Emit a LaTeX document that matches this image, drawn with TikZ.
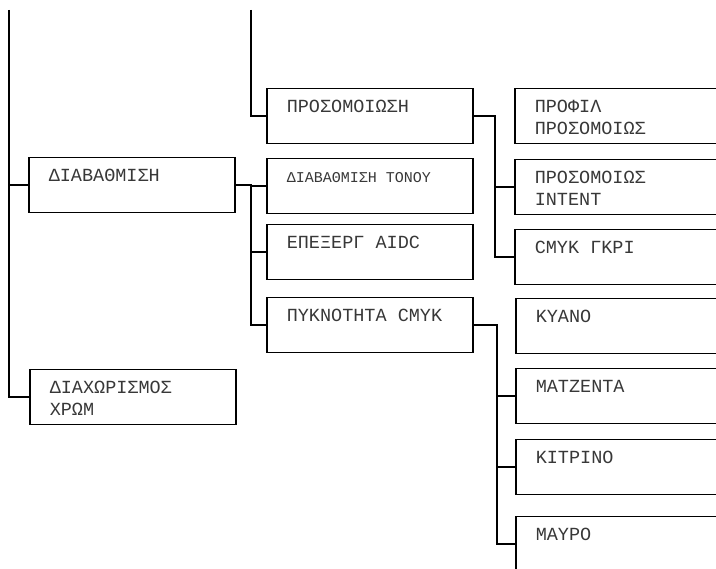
\documentclass[tikz,border=0pt]{standalone}
\usepackage{fontspec}
\newfontfamily\lmono{Liberation Mono}
\begin{document}
\begin{tikzpicture}[x=1pt,y=-1pt, line width=1.5pt,
  box/.style={draw, rectangle, minimum width=206pt, minimum height=55pt, anchor=north west, inner sep=0pt},
  lbl/.style={anchor=base west, inner sep=0pt, font=\lmono\fontsize{18.5}{21.7}\selectfont, text=black!78}]
\useasboundingbox (0,0) rectangle (716,569);
\clip (0,0) rectangle (716,569);
% boxes
\node[box] (diab) at (28,157) {};
\node[box] (diax) at (29,369) {};
\node[box] (pros) at (266,88) {};
\node[box] (tonu) at (266,158) {};
\node[box] (aidc) at (266,224) {};
\node[box] (pykn) at (266,297) {};
\node[box] (prof) at (514,88) {};
\node[box] (inte) at (514,159) {};
\node[box] (gkri) at (514,229) {};
\node[box] (kyan) at (515,298) {};
\node[box] (matz) at (515,368) {};
\node[box] (kitr) at (515,439) {};
\node[box] (mayr) at (515,516) {};
% labels
\node[lbl] (diabt) at ([shift={(20,24.5)}]diab.north west) {ΔΙΑΒΑΘΜΙΣΗ};
\node[lbl] (diaxt) at ([shift={(20,24.5)}]diax.north west) {\begin{tabular}[t]{@{}l@{}}ΔΙΑΧΩΡΙΣΜΟΣ\\ΧΡΩΜ\end{tabular}};
\node[lbl] (prost) at ([shift={(20,24.5)}]pros.north west) {ΠΡΟΣΟΜΟΙΩΣΗ};
\node[lbl, font=\lmono\fontsize{15}{18}\selectfont] (tonut) at ([shift={(20,24.5)}]tonu.north west) {ΔΙΑΒΑΘΜΙΣΗ ΤΟΝΟΥ};
\node[lbl] (aidct) at ([shift={(20,24.5)}]aidc.north west) {ΕΠΕΞΕΡΓ AIDC};
\node[lbl] (pyknt) at ([shift={(20,24.5)}]pykn.north west) {ΠΥΚΝΟΤΗΤΑ CMYK};
\node[lbl] (proft) at ([shift={(20,24.5)}]prof.north west) {\begin{tabular}[t]{@{}l@{}}ΠΡΟΦΙΛ\\ΠΡΟΣΟΜΟΙΩΣ\end{tabular}};
\node[lbl] (intet) at ([shift={(20,24.5)}]inte.north west) {\begin{tabular}[t]{@{}l@{}}ΠΡΟΣΟΜΟΙΩΣ\\INTENT\end{tabular}};
\node[lbl] (gkrit) at ([shift={(20,24.5)}]gkri.north west) {CMYK ΓΚΡΙ};
\node[lbl] (kyant) at ([shift={(20,24.5)}]kyan.north west) {ΚΥΑΝΟ};
\node[lbl] (matzt) at ([shift={(20,24.5)}]matz.north west) {ΜΑΤΖΕΝΤΑ};
\node[lbl] (kitrt) at ([shift={(20,24.5)}]kitr.north west) {ΚΙΤΡΙΝΟ};
\node[lbl] (mayrt) at ([shift={(20,24.5)}]mayr.north west) {ΜΑΥΡΟ};
% connectors
\coordinate (t1) at (9,10);
\coordinate (t2) at (251,10);
\coordinate (b2) at (495,0);
\coordinate (b3) at (497,0);
\draw (t1) |- (diax.west);
\draw (diab.west) -- (diab.west -| t1);
\draw (t2) |- (pros.west);
\draw (diab.east) -- (diab.east -| t2) |- (pykn.west);
\draw (tonu.west -| t2) -- (tonu.west);
\draw (aidc.west -| t2) -- (aidc.west);
\draw (pros.east) -- (pros.east -| b2) |- (gkri.west);
\draw (inte.west -| b2) -- (inte.west);
\draw (pykn.east) -- (pykn.east -| b3) |- (mayr.west);
\draw (matz.west -| b3) -- (matz.west);
\draw (kitr.west -| b3) -- (kitr.west);
\end{tikzpicture}
\end{document}
